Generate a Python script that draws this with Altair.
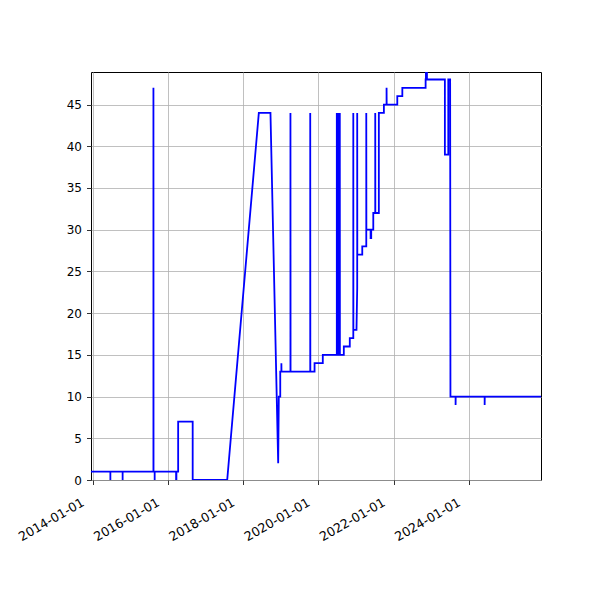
import altair as alt
import pandas as pd

dates = [
    "2013-12-16", "2014-06-22", "2014-06-22", "2014-06-22",
    "2014-10-19", "2014-10-19", "2014-10-19",
    "2015-08-14", "2015-08-14", "2015-08-15",
    "2015-08-26", "2015-08-26", "2015-08-26",
    "2016-03-21", "2016-03-21", "2016-03-24", "2016-03-24",
    "2016-04-10", "2016-04-10", "2016-08-29", "2016-08-29",
    "2017-07-30", "2018-06-02", "2018-09-23", "2018-12-07",
    "2018-12-13", "2018-12-27", "2018-12-27",
    "2019-01-07", "2019-01-07", "2019-01-08",
    "2019-04-05", "2019-04-05", "2019-04-06",
    "2019-10-14", "2019-10-14", "2019-10-15",
    "2019-11-25", "2019-11-25", "2020-02-13", "2020-02-13",
    "2020-06-28", "2020-06-28", "2020-06-29",
    "2020-07-08", "2020-07-08", "2020-07-09",
    "2020-07-18", "2020-07-18", "2020-07-19",
    "2020-07-27", "2020-07-27", "2020-07-28",
    "2020-09-04", "2020-09-04", "2020-11-01", "2020-11-01",
    "2020-12-05", "2020-12-05", "2020-12-06",
    "2021-01-05", "2021-01-12", "2021-01-12", "2021-01-13",
    "2021-03-02", "2021-03-02",
    "2021-04-10", "2021-04-10", "2021-04-11",
    "2021-05-22", "2021-05-22", "2021-05-28", "2021-05-28",
    "2021-06-17", "2021-06-17",
    "2021-07-06", "2021-07-06", "2021-07-07",
    "2021-08-10", "2021-08-10", "2021-09-28", "2021-09-28",
    "2021-10-24", "2021-10-24", "2021-10-25",
    "2022-02-05", "2022-02-05", "2022-03-26", "2022-03-26",
    "2022-11-07", "2022-11-07", "2022-11-10", "2022-11-10",
    "2022-11-20", "2022-11-20",
    "2023-05-13", "2023-05-13", "2023-06-15", "2023-06-15",
    "2023-07-03", "2023-07-06",
    "2023-08-25", "2023-08-25", "2023-08-26",
    "2024-06-02", "2024-06-02", "2024-06-03",
    "2025-12-01",
]
values = [
    1, 1, 0, 1,
    1, 0, 1,
    1, 47, 1,
    1, 0, 1,
    1, 0, 0, 1,
    1, 7, 7, 0,
    0, 44, 44, 2,
    10, 10, 13,
    13, 14, 13,
    13, 44, 13,
    13, 44, 13,
    13, 14, 14, 15,
    15, 44, 15,
    15, 44, 15,
    15, 44, 15,
    15, 44, 15,
    15, 16, 16, 17,
    17, 44, 18,
    18, 23, 44, 27,
    27, 28,
    28, 44, 30,
    30, 29, 29, 30,
    30, 32,
    32, 44, 32,
    32, 44, 44, 45,
    45, 47, 45,
    45, 46, 46, 47,
    47, 48, 48, 49,
    49, 48,
    48, 39, 39, 48,
    48, 10,
    10, 9, 10,
    10, 9, 10,
    10,
]
y_ticks = list(range(0, 50, 5))
x_tick_years = [2014, 2016, 2018, 2020, 2022, 2024]

df = pd.DataFrame({"date": dates, "value": values, "i": range(len(dates))})

x_ticks = [alt.DateTime(year=y, month=1, date=1, utc=True) for y in x_tick_years]
x_domain = [
    alt.DateTime(year=2013, month=12, date=16, utc=True),
    alt.DateTime(year=2025, month=12, date=1, utc=True),
]

chart = alt.Chart(df).mark_line(color="#0000ff", strokeWidth=1.8, clip=True).encode(
    alt.X("date:T",
          scale=alt.Scale(type="utc", domain=x_domain, nice=False),
          axis=alt.Axis(values=x_ticks, format="%Y-%m-%d", title=None,
                        labelAngle=-30, labelAlign="right", labelBaseline="alphabetic",
                        labelOffset=-8, labelPadding=20, labelFontSize=12.6)),
    alt.Y("value:Q",
          scale=alt.Scale(domain=[0, 48.9], nice=False, zero=False),
          axis=alt.Axis(values=y_ticks, title=None, labelPadding=5)),
    order=alt.Order("i:Q"),
).properties(
    width=450,
    height=408,
    autosize="none",
    padding={"left": 83, "top": 64, "right": 40, "bottom": 100},
).configure_axis(
    domain=False,
    grid=True,
    gridColor="#b0b0b0",
    gridWidth=0.8,
    gridOpacity=1,
    tickColor="black",
    tickSize=4.5,
    tickWidth=0.8,
    labelColor="black",
    labelFont="DejaVu Sans",
    labelFontSize=12,
    labelFlush=False,
    labelOverlap=False,
).configure_view(
    stroke="black",
    strokeWidth=1,
)

chart.save("out.html", embed_options={"renderer": "svg", "actions": False})
